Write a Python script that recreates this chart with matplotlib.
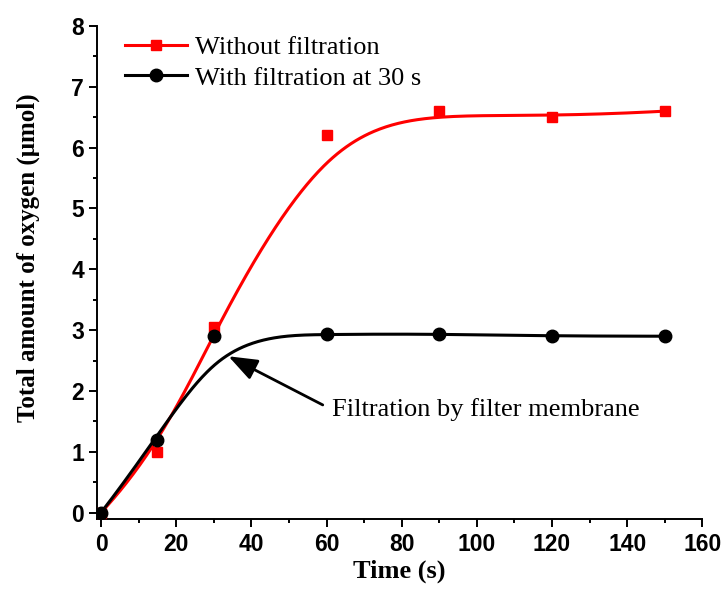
import numpy as np
import matplotlib
matplotlib.use("Agg")
import matplotlib.pyplot as plt
from matplotlib.lines import Line2D
from matplotlib.ticker import MultipleLocator

# data
time_s = [0, 15, 30, 60, 90, 120, 150]
no_filter = [0.0, 1.0, 3.05, 6.2, 6.6, 6.5, 6.6]
with_filter = [0.0, 1.2, 2.9, 2.93, 2.94, 2.9, 2.9]
labels = ["Without filtration", "With filtration at 30 s"]


def bspline(px, py, k=3, num=400):
    # clamped uniform B-spline using the data points as control points
    px = np.asarray(px, float)
    py = np.asarray(py, float)
    n = len(px)
    knots = np.concatenate([np.zeros(k + 1), np.arange(1, n - k), np.full(k + 1, n - k)])
    t = np.linspace(0, n - k, num)
    t[-1] -= 1e-9
    B = np.zeros((num, len(knots) - 1))
    for i in range(len(knots) - 1):
        B[:, i] = (t >= knots[i]) & (t < knots[i + 1])
    for d in range(1, k + 1):
        Bn = np.zeros((num, len(knots) - 1 - d))
        for i in range(len(knots) - 1 - d):
            den1 = knots[i + d] - knots[i]
            den2 = knots[i + d + 1] - knots[i + 1]
            a = (t - knots[i]) / den1 * B[:, i] if den1 > 0 else 0
            b = (knots[i + d + 1] - t) / den2 * B[:, i + 1] if den2 > 0 else 0
            Bn[:, i] = a + b
        B = Bn
    return B @ px, B @ py


serif = "Liberation Serif"
sans = "Liberation Sans"

fig = plt.figure(figsize=(7.25, 5.99), dpi=100)
ax = fig.add_axes([0.1334, 0.1341, 0.9687 - 0.1334, 0.9566 - 0.1341])

red = "#ff0000"
sx, sy = bspline(time_s, no_filter)
ax.plot(sx, sy, color=red, lw=2.2, zorder=2)
ax.plot(time_s, no_filter, "s", color=red, ms=7.4, zorder=3)

bx, by = bspline(time_s, with_filter)
ax.plot(bx, by, color="black", lw=2.2, zorder=2)
ax.plot(time_s, with_filter, "o", color="black", ms=9, zorder=4)

ax.set_xlim(-1.15, 160)
ax.set_ylim(-0.1, 8)
ax.xaxis.set_major_locator(MultipleLocator(20))
ax.xaxis.set_minor_locator(MultipleLocator(10))
ax.yaxis.set_major_locator(MultipleLocator(1))
ax.yaxis.set_minor_locator(MultipleLocator(0.5))

for s in ["top", "right"]:
    ax.spines[s].set_visible(False)
for s in ["left", "bottom"]:
    ax.spines[s].set_linewidth(1.4)

ax.tick_params(which="major", direction="out", length=6, width=1.4)
ax.tick_params(which="minor", direction="out", length=3.2, width=1.4)
ax.tick_params(axis="x", which="major", pad=4.5)
ax.tick_params(axis="y", which="major", pad=3)
for lab in ax.get_xticklabels() + ax.get_yticklabels():
    lab.set_fontfamily(sans)
    lab.set_fontweight("bold")
    lab.set_fontsize(16.5)

ax.set_xlabel("Time (s)", fontfamily=serif, fontweight="bold", fontsize=19)
ax.xaxis.set_label_coords(0.5, -0.084)
ax.set_ylabel("Total amount of oxygen (\u03bcmol)", fontfamily=serif, fontweight="bold",
              fontsize=18)
ax.yaxis.set_label_coords(-0.094, 0.53)

handles = [
    Line2D([], [], color=red, lw=2.2, marker="s", ms=7.4),
    Line2D([], [], color="black", lw=2.2, marker="o", ms=9),
]
ax.legend(handles, labels, loc="upper left", bbox_to_anchor=(0.046, 0.98),
          frameon=False, prop={"family": serif, "size": 19},
          handlelength=2.35, handletextpad=0.3, labelspacing=0.26,
          borderpad=0, borderaxespad=0)

ax.annotate("", xy=(33.9, 2.57), xytext=(59.0, 1.77),
            arrowprops=dict(arrowstyle="-|>,head_length=0.8,head_width=0.3",
                            color="black", lw=2, mutation_scale=22,
                            shrinkA=0, shrinkB=0))
ax.text(61.4, 1.58, "Filtration by filter membrane", fontfamily=serif, fontsize=19,
        ha="left", va="baseline")

fig.savefig("out.png", dpi=100)
